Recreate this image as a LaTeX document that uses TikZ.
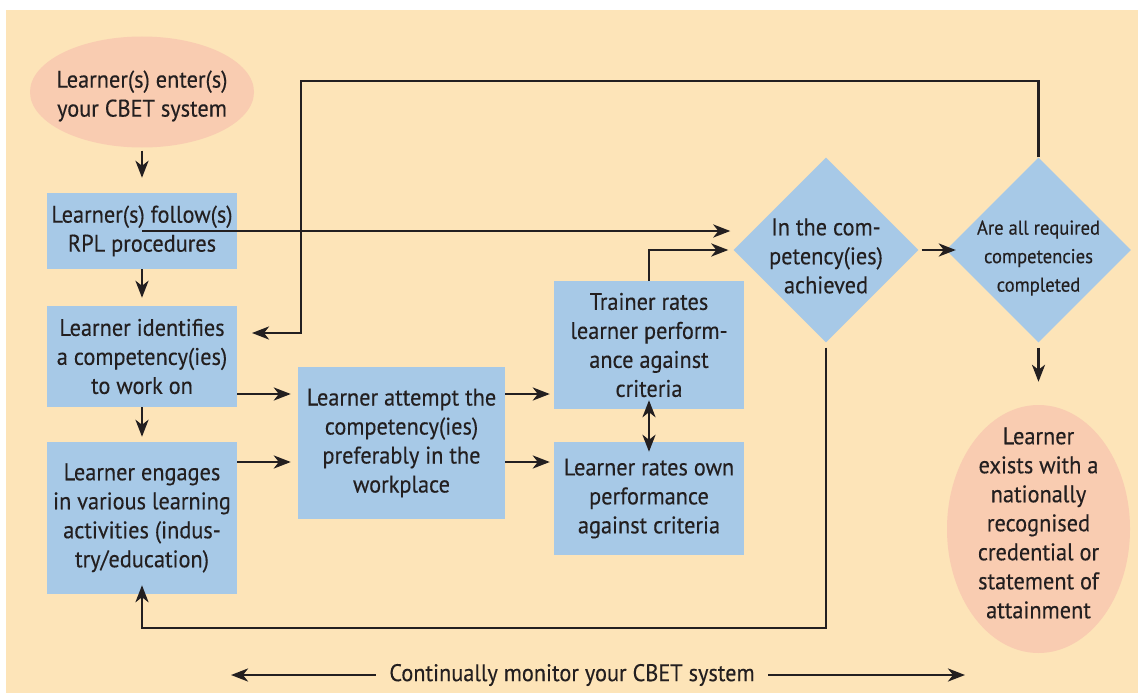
\documentclass[tikz,border=0pt]{standalone}
\usepackage{fontspec}
\setmainfont[FakeStretch=0.93, FakeBold=0.3]{PT Sans}
\usetikzlibrary{shapes.geometric,arrows.meta,positioning}
\definecolor{bgpeach}{RGB}{253,228,184}
\definecolor{boxblue}{RGB}{167,201,231}
\definecolor{termpink}{RGB}{249,204,177}
\definecolor{ink}{RGB}{35,31,32}
\tikzstyle{block} = [rectangle, fill=boxblue, text=ink, align=center, inner sep=0pt, font=\fontsize{24}{29}\selectfont]
\tikzstyle{terminal} = [ellipse, fill=termpink, inner sep=0pt]
\tikzstyle{decision} = [diamond, fill=boxblue, aspect=1, inner sep=0pt, minimum width=185pt, minimum height=185pt]
\tikzstyle{tlabel} = [text=ink, align=center, font=\fontsize{24}{29}\selectfont]
\tikzstyle{line} = [draw, ink, line width=2.8pt, -{Stealth[length=17pt,width=13pt,inset=5pt]}]

\begin{document}
\begin{tikzpicture}[x=1pt, y=-1pt]
  \useasboundingbox (0,0) rectangle (1138,693);
  \fill [bgpeach] (6,10) rectangle (1138,693);

  % left column
  \node [terminal, minimum width=224pt, minimum height=111pt, label={[tlabel, yshift=-4pt]center:Learner(s) enter(s)\\your CBET system}] (enter) at (142,92) {};
  \node [block, minimum width=190pt, minimum height=76pt] (rpl) at (142,231) {Learner(s) follow(s)\\RPL procedures};
  \node [block, minimum width=190pt, minimum height=101pt] (identify) at (142,356.5) {Learner identifies\\a competency(ies)\\to work on};
  \node [block, minimum width=190pt, minimum height=152pt] (engage) at (142,518) {Learner engages\\in various learning\\activities (indus-\\try/education)};

  % middle
  \node [block, minimum width=207pt, minimum height=152pt] (attempt) at (401.5,443) {Learner attempt the\\competency(ies)\\preferably in the\\workplace};
  \node [block, minimum width=190pt, minimum height=128pt] (trainer) at (649,345) {Trainer rates\\learner perform-\\ance against\\criteria};
  \node [block, minimum width=190pt, minimum height=113pt] (selfrate) at (649,498.5) {Learner rates own\\performance\\against criteria};

  % decisions
  \node [decision, label={[tlabel, yshift=-6pt]center:In the com-\\petency(ies)\\achieved}] (achieved) at (826,250) {};
  \node [decision, label={[tlabel, yshift=-8pt, font=\fontsize{20}{28.5}\selectfont]center:Are all required\\competencies\\completed}] (completed) at (1038.5,250) {};
  \node [terminal, minimum width=183pt, minimum height=248pt, label={[tlabel, yshift=6pt]center:Learner\\exists with a\\nationally\\recognised\\credential or\\statement of\\attainment}] (exit) at (1038.5,529) {};

  \node [tlabel] (monitor) at (572,675) {Continually monitor your CBET system};
  \coordinate (monleft) at (231,675);
  \coordinate (monright) at (965,675);
  \coordinate (topturn) at (301,81);
  \coordinate (loopin) at (252,333);
  \coordinate (bottomturn) at (826,628);

  \path [line, shorten <=3pt, shorten >=15pt] (enter) -- (rpl);
  \path [line, shorten >=8pt] (rpl) -- (identify);
  \path [line, shorten >=5pt] (identify) -- (engage);
  \path [line, shorten >=3pt] (rpl.center) -- (rpl.center -| achieved.west);
  \path [line, shorten >=5pt] (trainer.north) |- (achieved.west);
  \path [line, shorten <=3pt, shorten >=-10pt] (achieved.east) -- (completed.west);
  \path [line] (completed.north) |- (topturn) |- (loopin);
  \path [line, shorten <=5pt, shorten >=23pt] (completed.south) -- (exit.north);
  \path [line, shorten <=5pt, shorten >=-9pt] (achieved.south) -- (bottomturn) -| (engage.south);

  \path [line, shorten >=7pt] ([yshift=-37.5pt]identify.east) -- ([yshift=-37.5pt]identify.east -| attempt.west);
  \path [line, shorten >=7pt] ([yshift=56pt]engage.east) -- ([yshift=56pt]engage.east -| attempt.west);
  \path [line, shorten >=4pt] ([yshift=49pt]attempt.east) -- ([yshift=49pt]attempt.east -| trainer.west);
  \path [line, shorten >=4pt] ([yshift=-19pt]attempt.east) -- ([yshift=-19pt]attempt.east -| selfrate.west);
  \path [line, {Stealth[length=17pt,width=13pt,inset=5pt]}-{Stealth[length=17pt,width=13pt,inset=5pt]}, shorten <=-9pt, shorten >=-10pt] (trainer.south) -- (selfrate.north);

  \path [line, shorten <=10pt] (monitor.west) -- (monleft);
  \path [line, shorten <=10pt] (monitor.east) -- (monright);
\end{tikzpicture}
\end{document}
